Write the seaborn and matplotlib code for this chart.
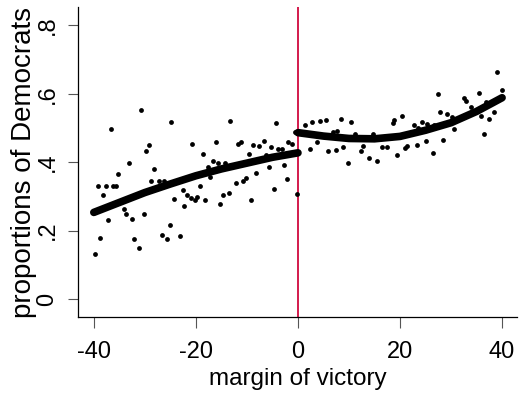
import numpy as np
import pandas as pd
import matplotlib
matplotlib.use("Agg")
import matplotlib.pyplot as plt
import seaborn as sns

# binned means
left_x = [-39.7, -38.8, -39.2, -38.2, -37.6, -37.2, -36.7, -36.2, -35.6, -35.2,
          -34.1, -33.7, -33.2, -32.6, -32.2, -31.2, -30.7, -30.1, -29.7, -29.2,
          -28.8, -28.2, -27.3, -26.7, -26.2, -25.7, -25.1, -24.8, -24.2, -23.2,
          -22.6, -22.3, -21.7, -21.0, -20.7, -20.2, -19.7, -19.2, -18.6, -18.3,
          -17.7, -17.3, -16.7, -16.1, -15.7, -15.2, -14.6, -14.2, -13.6, -13.3,
          -12.1, -11.7, -11.2, -10.7, -10.2, -9.6, -9.2, -8.8, -8.2, -7.6,
          -6.7, -6.3, -5.7, -5.2, -4.6, -4.3, -3.9, -3.1, -2.7, -2.1,
          -1.9, -1.2, -0.2, -0.6]
left_y = [0.131, 0.178, 0.331, 0.305, 0.331, 0.231, 0.497, 0.331, 0.331, 0.364,
          0.264, 0.248, 0.398, 0.234, 0.176, 0.148, 0.553, 0.248, 0.433, 0.451,
          0.345, 0.380, 0.345, 0.188, 0.345, 0.176, 0.217, 0.517, 0.291, 0.185,
          0.317, 0.272, 0.304, 0.294, 0.454, 0.288, 0.298, 0.330, 0.424, 0.290,
          0.386, 0.355, 0.404, 0.458, 0.398, 0.277, 0.304, 0.397, 0.310, 0.520,
          0.340, 0.452, 0.458, 0.345, 0.353, 0.424, 0.290, 0.451, 0.368, 0.447,
          0.461, 0.421, 0.386, 0.443, 0.322, 0.514, 0.437, 0.438, 0.391, 0.351,
          0.458, 0.453, 0.307, 0.487]

right_x = [1.3, 2.8, 4.4, 5.4, 2.4, 3.7, 5.8, 6.9, 7.4, 7.7,
           8.4, 8.9, 9.8, 10.4, 11.2, 12.3, 12.8, 13.9, 14.8, 15.4,
           16.5, 17.4, 18.6, 18.9, 19.4, 20.3, 21.0, 21.3, 22.7, 23.3,
           23.6, 24.4, 25.0, 25.3, 26.4, 26.7, 27.5, 27.8, 28.4, 29.2,
           30.1, 30.6, 32.6, 32.9, 34.0, 35.4, 35.9, 36.5, 36.9, 37.4,
           38.4, 39.0, 40.0]
right_y = [0.508, 0.518, 0.521, 0.523, 0.437, 0.459, 0.431, 0.488, 0.434, 0.491,
           0.526, 0.445, 0.398, 0.517, 0.482, 0.431, 0.447, 0.411, 0.482, 0.404,
           0.443, 0.443, 0.515, 0.522, 0.421, 0.534, 0.441, 0.447, 0.507, 0.450,
           0.501, 0.517, 0.462, 0.510, 0.427, 0.509, 0.599, 0.547, 0.464, 0.541,
           0.531, 0.498, 0.587, 0.579, 0.561, 0.603, 0.536, 0.481, 0.575, 0.526,
           0.547, 0.663, 0.610]

# fitted curves on each side of the cutoff
left_fit_x = [-40, -35, -30, -25, -20, -15, -10, -5, 0]
left_fit_y = [0.253, 0.282, 0.311, 0.336, 0.360, 0.380, 0.397, 0.414, 0.427]
right_fit_x = [0, 5, 10, 15, 20, 25, 30, 35, 40]
right_fit_y = [0.486, 0.476, 0.469, 0.468, 0.475, 0.493, 0.515, 0.548, 0.588]

x_ticks = [-40, -20, 0, 20, 40]
y_ticks = [0, 0.2, 0.4, 0.6, 0.8]
y_tick_labels = ["0", ".2", ".4", ".6", ".8"]

sns.set_style("white")
plt.rcParams["font.family"] = ["Liberation Sans", "DejaVu Sans"]
plt.rcParams["text.color"] = "black"
plt.rcParams["axes.labelcolor"] = "black"
plt.rcParams["xtick.color"] = "black"
plt.rcParams["ytick.color"] = "black"

fig = plt.figure(figsize=(5.2, 3.98), dpi=100)
ax = fig.add_axes([0.15, 0.2035, 0.844, 0.7785])

pts = pd.DataFrame({"x": left_x + right_x, "y": left_y + right_y})
sns.scatterplot(data=pts, x="x", y="y", color="black", s=12, linewidth=0, ax=ax)

for fx, fy in [(left_fit_x, left_fit_y), (right_fit_x, right_fit_y)]:
    sns.lineplot(x=fx, y=fy, color="black", linewidth=5.5, ax=ax,
                 solid_capstyle="round")

ax.axvline(0, color="#d31a4c", linewidth=1.4, zorder=0)

ax.set_xlim(-43.1, 42.9)
ax.set_ylim(-0.0526, 0.8526)
ax.set_xticks(x_ticks)
ax.set_xticklabels([str(t) for t in x_ticks], fontsize=17)
ax.set_yticks(y_ticks)
ax.set_yticklabels(y_tick_labels, fontsize=17, rotation=90, va="center")
ax.tick_params(axis="x", direction="out", length=8, width=0.8, color="#555555", pad=9, bottom=True)
ax.tick_params(axis="y", direction="out", length=7, width=0.8, color="#555555", pad=7, left=True)

for s in ["top", "right"]:
    ax.spines[s].set_visible(False)
for s in ["left", "bottom"]:
    ax.spines[s].set_color("black")
    ax.spines[s].set_linewidth(0.9)

ax.set_xlabel("margin of victory", fontsize=17.5, labelpad=4)
ax.set_ylabel("proportions of Democrats", fontsize=20, labelpad=0)

fig.savefig("out.png", dpi=100)
